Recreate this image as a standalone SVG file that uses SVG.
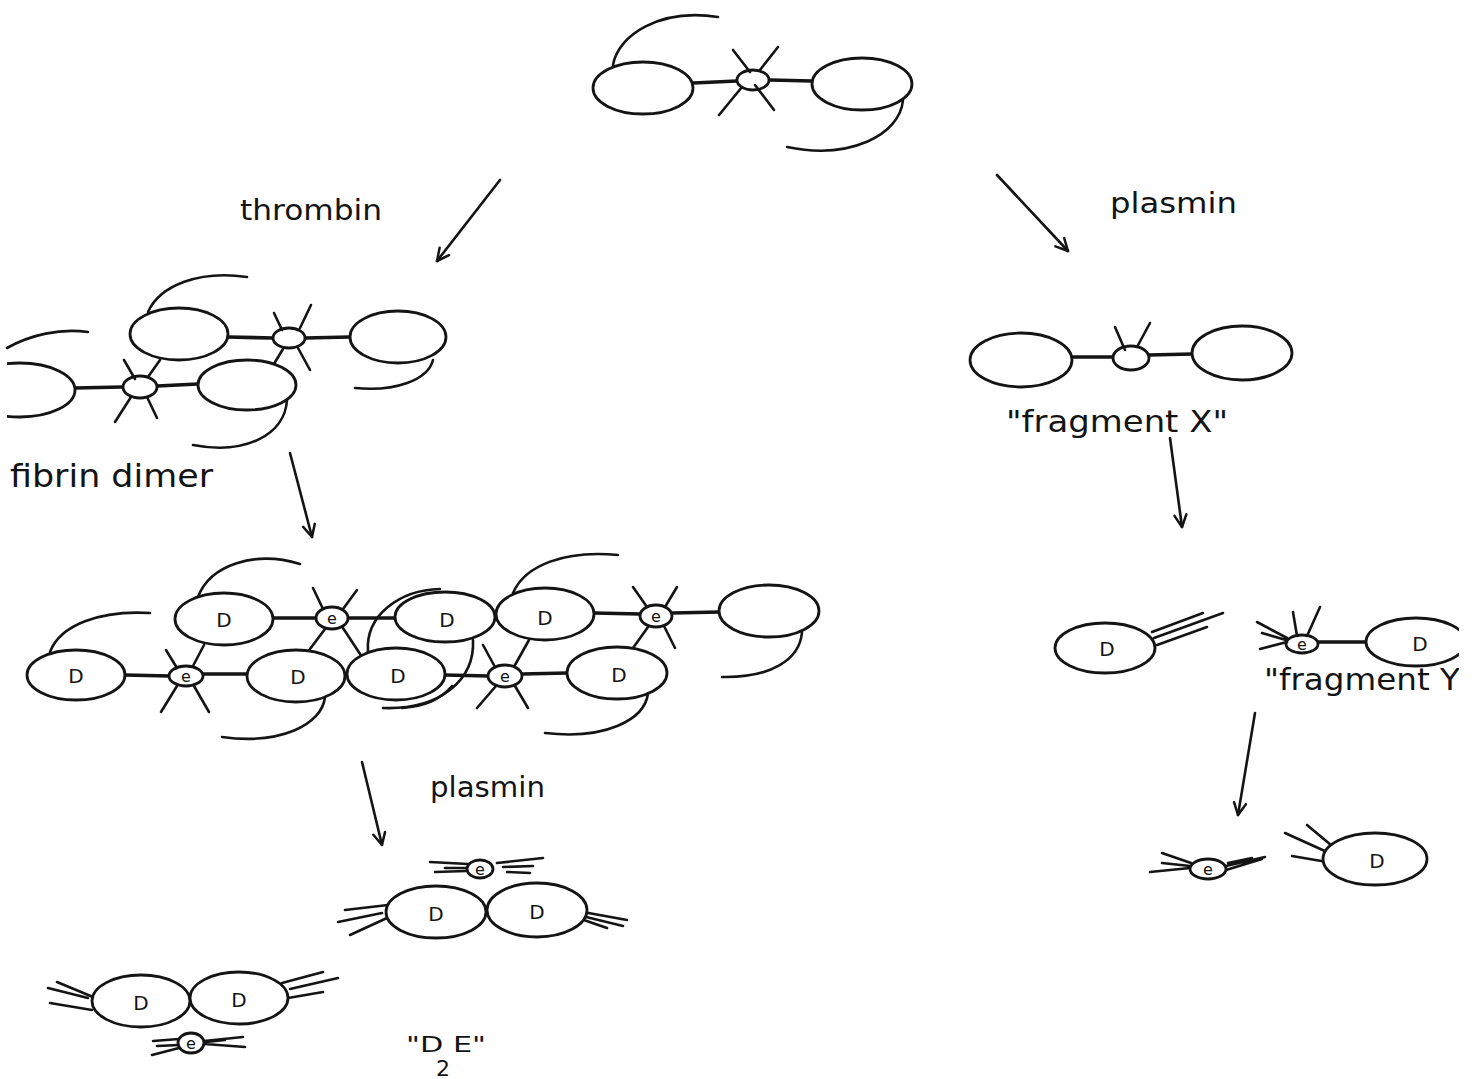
<svg xmlns="http://www.w3.org/2000/svg" width="1472" height="1079" viewBox="0 0 1472 1079">
  <style>
    .ln { fill: none; stroke: #141414; stroke-width: 2.6; stroke-linecap: round; stroke-linejoin: round; }
    .rod { fill: none; stroke: #141414; stroke-width: 3.6; stroke-linecap: round; }
    .ov { fill: #ffffff; stroke: #141414; stroke-width: 2.8; }
    .lbl { font-family: "DejaVu Sans", "Liberation Sans", sans-serif; fill: #141414; }
    .dl { font-family: "DejaVu Sans", "Liberation Sans", sans-serif; font-size: 20px; fill: #141414; text-anchor: middle; dominant-baseline: central; }
    .el { font-family: "DejaVu Sans", "Liberation Sans", sans-serif; font-size: 16px; fill: #141414; text-anchor: middle; dominant-baseline: central; }
  </style>
  <defs>
    <marker id="ah" viewBox="-14 -8 16 16" refX="0" refY="0" markerWidth="16" markerHeight="16" markerUnits="userSpaceOnUse" orient="auto">
      <path d="M-12,-6 L0,0 L-12,6" fill="none" stroke="#141414" stroke-width="2.5" stroke-linecap="round" stroke-linejoin="round"/>
    </marker>
    <clipPath id="leftEdge"><rect x="7" y="0" width="1465" height="1079"/></clipPath>
    <clipPath id="rightEdge"><rect x="0" y="0" width="1459" height="1079"/></clipPath>
  </defs>
  <rect width="1472" height="1079" fill="#ffffff"/>

  <!-- intact fibrinogen -->
  <g id="fibrinogen">
    <path class="ln" d="M613,65 C618,35 660,8 718,17"/>
    <path class="ln" d="M903,100 C900,135 850,160 787,147"/>
    <path class="rod" d="M693,83 L737,81 M770,80 L812,81"/>
    <ellipse class="ov" cx="643" cy="88" rx="50" ry="26"/>
    <ellipse class="ov" cx="753" cy="80" rx="16" ry="10"/>
    <ellipse class="ov" cx="862" cy="84" rx="50" ry="26"/>
    <path class="ln" d="M733,50 L750,72 M778,47 L760,70 M719,115 L742,87 M774,110 L755,85"/>
  </g>

  <!-- fibrin dimer -->
  <g id="fibrin-dimer">
    <path class="ln" d="M7,348 C30,335 60,328 88,332"/>
    <path class="ln" d="M148,312 C160,285 200,270 247,277"/>
    <path class="ln" d="M287,400 C285,435 245,455 193,445"/>
    <path class="ln" d="M433,360 C428,380 395,392 355,388"/>
    <path class="rod" d="M75,388 L122,387 M157,386 L198,384 M228,337 L273,338 M305,338 L350,337"/>
    <path class="ln" d="M160,360 L148,377 M283,349 L269,372"/>
    <ellipse class="ov" cx="20" cy="390" rx="55" ry="27" clip-path="url(#leftEdge)"/>
    <ellipse class="ov" cx="179" cy="334" rx="49" ry="26"/>
    <ellipse class="ov" cx="247" cy="385" rx="49" ry="25"/>
    <ellipse class="ov" cx="398" cy="337" rx="48" ry="26"/>
    <ellipse class="ov" cx="140" cy="387" rx="17" ry="11"/>
    <ellipse class="ov" cx="289" cy="338" rx="16" ry="10"/>
    <path class="ln" d="M124,360 L135,379 M115,422 L131,397 M157,418 L147,397"/>
    <path class="ln" d="M274,313 L282,330 M311,305 L300,328 M310,370 L298,348"/>
    <text class="lbl" x="10" y="487" font-size="32" textLength="203" lengthAdjust="spacingAndGlyphs">fibrin  dimer</text>
  </g>

  <!-- cross-linked fibrin network -->
  <g id="fibrin-network">
    <path class="ln" d="M50,652 C60,625 100,610 150,613"/>
    <path class="ln" d="M198,597 C210,565 255,550 300,564"/>
    <path class="ln" d="M325,697 C322,725 280,745 222,737"/>
    <path class="ln" d="M368,652 C365,615 400,590 440,589"/>
    <path class="ln" d="M473,640 C475,680 440,710 383,708"/>
    <path class="ln" d="M452,686 C440,700 425,706 402,708"/>
    <path class="ln" d="M513,593 C525,565 565,550 618,555"/>
    <path class="ln" d="M648,693 C645,720 605,740 545,733"/>
    <path class="ln" d="M802,632 C800,660 770,678 722,677"/>
    <path class="rod" d="M125,675 L169,676 M203,674 L247,674 M273,618 L316,618 M348,618 L395,618 M445,675 L488,676 M522,674 L567,673 M594,613 L640,614 M672,613 L719,612"/>
    <path class="ln" d="M204,645 L193,666 M529,640 L515,665 M325,629 L304,657 M343,628 L362,657 M648,627 L633,648"/>
    <ellipse class="ov" cx="76" cy="675" rx="49" ry="25"/>
    <ellipse class="ov" cx="224" cy="619" rx="49" ry="26"/>
    <ellipse class="ov" cx="296" cy="676" rx="49" ry="26"/>
    <ellipse class="ov" cx="396" cy="674" rx="49" ry="26"/>
    <ellipse class="ov" cx="445" cy="617" rx="50" ry="25"/>
    <ellipse class="ov" cx="545" cy="614" rx="49" ry="26"/>
    <ellipse class="ov" cx="617" cy="673" rx="50" ry="26"/>
    <ellipse class="ov" cx="769" cy="611" rx="50" ry="26"/>
    <ellipse class="ov" cx="186" cy="676" rx="17" ry="10"/>
    <ellipse class="ov" cx="332" cy="618" rx="16" ry="11"/>
    <ellipse class="ov" cx="505" cy="676" rx="17" ry="11"/>
    <ellipse class="ov" cx="656" cy="616" rx="16" ry="11"/>
    <path class="ln" d="M166,650 L177,668 M161,712 L177,686 M209,712 L194,686"/>
    <path class="ln" d="M313,588 L323,609 M357,590 L343,609"/>
    <path class="ln" d="M483,645 L495,667 M477,708 L496,686 M528,708 L515,686"/>
    <path class="ln" d="M633,587 L647,607 M677,587 L665,607 M675,648 L664,626"/>
    <text class="dl" x="76" y="676">D</text>
    <text class="dl" x="224" y="620">D</text>
    <text class="dl" x="298" y="677">D</text>
    <text class="dl" x="398" y="676">D</text>
    <text class="dl" x="447" y="620">D</text>
    <text class="dl" x="545" y="618">D</text>
    <text class="dl" x="619" y="675">D</text>
    <text class="el" x="186" y="676">e</text>
    <text class="el" x="332" y="618">e</text>
    <text class="el" x="505" y="676">e</text>
    <text class="el" x="656" y="616">e</text>
  </g>

  <!-- fragment X -->
  <g id="fragment-x">
    <path class="rod" d="M1072,357 L1113,357 M1149,355 L1192,354"/>
    <ellipse class="ov" cx="1021" cy="360" rx="51" ry="27"/>
    <ellipse class="ov" cx="1131" cy="358" rx="18" ry="12"/>
    <ellipse class="ov" cx="1242" cy="353" rx="50" ry="27"/>
    <path class="ln" d="M1115,327 L1125,350 M1150,323 L1137,347"/>
    <text class="lbl" x="1006" y="432" font-size="30" textLength="222" lengthAdjust="spacingAndGlyphs">"fragment X"</text>
  </g>

  <!-- fragment D released from X -->
  <g id="fragment-d1">
    <path class="ln" d="M1152,632 L1203,613 M1154,638 L1223,613 M1157,645 L1207,627"/>
    <ellipse class="ov" cx="1105" cy="648" rx="50" ry="25"/>
    <text class="dl" x="1107" y="649">D</text>
  </g>

  <!-- fragment Y -->
  <g id="fragment-y" clip-path="url(#rightEdge)">
    <path class="rod" d="M1318,642 L1367,642"/>
    <ellipse class="ov" cx="1302" cy="644" rx="16" ry="9"/>
    <ellipse class="ov" cx="1416" cy="642" rx="50" ry="24"/>
    <path class="ln" d="M1293,612 L1297,636 M1320,607 L1307,636 M1257,622 L1287,638 M1262,633 L1286,640 M1260,649 L1287,642"/>
    <text class="el" x="1302" y="644">e</text>
    <text class="dl" x="1420" y="644">D</text>
    <text class="lbl" x="1264" y="690" font-size="30" textLength="196" lengthAdjust="spacingAndGlyphs">"fragment Y</text>
  </g>

  <!-- fragments E and D from Y -->
  <g id="fragment-e2">
    <path class="ln" d="M1162,853 L1191,863 M1162,863 L1190,866 M1150,872 L1190,868 M1226,866 L1265,857 M1226,870 L1262,859 M1228,863 L1252,858"/>
    <ellipse class="ov" cx="1208" cy="869" rx="18" ry="10"/>
    <text class="el" x="1208" y="869">e</text>
  </g>
  <g id="fragment-d2">
    <path class="ln" d="M1285,833 L1327,852 M1307,825 L1331,845 M1292,856 L1333,863"/>
    <ellipse class="ov" cx="1375" cy="859" rx="52" ry="26"/>
    <text class="dl" x="1377" y="861">D</text>
  </g>

  <!-- D-dimer / E complex, upper -->
  <g id="dde-complex-1">
    <path class="ln" d="M430,862 L468,864 M445,868 L468,868 M435,872 L467,871 M497,863 L543,858 M503,867 L533,866 M507,872 L530,873"/>
    <ellipse class="ov" cx="480" cy="869" rx="13" ry="9"/>
    <text class="el" x="480" y="869" font-size="14">e</text>
    <path class="ln" d="M345,910 L388,905 M338,922 L382,913 M350,935 L387,918 M583,912 L627,920 M582,916 L623,926 M578,918 L607,928"/>
    <ellipse class="ov" cx="436" cy="912" rx="50" ry="26"/>
    <ellipse class="ov" cx="537" cy="910" rx="50" ry="27"/>
    <text class="dl" x="436" y="914">D</text>
    <text class="dl" x="537" y="912">D</text>
  </g>

  <!-- D-dimer / E complex, lower -->
  <g id="dde-complex-2">
    <path class="ln" d="M57,982 L93,997 M48,988 L88,998 M50,1003 L92,1010 M282,983 L323,972 M290,989 L338,978 M288,998 L323,992"/>
    <ellipse class="ov" cx="141" cy="1001" rx="49" ry="26"/>
    <ellipse class="ov" cx="239" cy="998" rx="49" ry="26"/>
    <text class="dl" x="141" y="1003">D</text>
    <text class="dl" x="239" y="1000">D</text>
    <path class="ln" d="M153,1041 L179,1039 M157,1046 L179,1045 M152,1055 L179,1048 M204,1041 L243,1037 M205,1044 L245,1047 M206,1042 L225,1040"/>
    <ellipse class="ov" cx="191" cy="1043" rx="13" ry="10"/>
    <text class="el" x="191" y="1043" font-size="14">e</text>
  </g>

  <g id="de2-label">
    <text class="lbl" x="406" y="1052" font-size="22" textLength="80" lengthAdjust="spacingAndGlyphs">"D E"</text>
    <text class="lbl" x="443" y="1076" font-size="22" text-anchor="middle">2</text>
  </g>

  <!-- reaction labels -->
  <g id="enzyme-labels">
    <text class="lbl" x="240" y="220" font-size="28" textLength="142" lengthAdjust="spacingAndGlyphs">thrombin</text>
    <text class="lbl" x="1110" y="213" font-size="28" textLength="127" lengthAdjust="spacingAndGlyphs">plasmin</text>
    <text class="lbl" x="430" y="797" font-size="28" textLength="115" lengthAdjust="spacingAndGlyphs">plasmin</text>
  </g>

  <!-- reaction arrows -->
  <g id="connectors" class="ln" marker-end="url(#ah)">
    <path d="M500,180 L437,261"/>
    <path d="M997,175 L1068,251"/>
    <path d="M290,453 L312,537"/>
    <path d="M362,762 L382,845"/>
    <path d="M1170,438 L1182,527"/>
    <path d="M1255,713 L1238,815"/>
  </g>
</svg>
